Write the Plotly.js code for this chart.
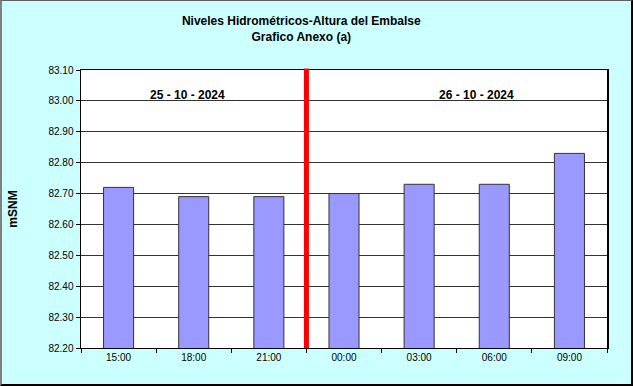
<!DOCTYPE html>
<html>
<head>
<meta charset="utf-8">
<script src="https://cdn.plot.ly/plotly-3.0.1.min.js"></script>
<style>
html,body{margin:0;padding:0;background:#CCFFFF;}
#wrap{position:relative;width:633px;height:386px;}
#chart{position:absolute;left:0;top:0;width:633px;height:386px;}
#frame{position:absolute;left:0;top:0;width:633px;height:386px;border-left:2px solid #808080;border-top:1px solid #606060;border-right:2px solid #000;border-bottom:2px solid #000;box-sizing:border-box;pointer-events:none;}
</style>
</head>
<body>
<div id="wrap"><div id="chart"></div><div id="frame"></div></div>
<script>
const categories = ["15:00","18:00","21:00","00:00","03:00","06:00","09:00"];
const levels = [82.72, 82.69, 82.69, 82.70, 82.73, 82.73, 82.83];
const yTicks = [82.2, 82.3, 82.4, 82.5, 82.6, 82.7, 82.8, 82.9, 83.0, 83.1];
const dayLabels = ["25 - 10 - 2024", "26 - 10 - 2024"];
const dayLabelPos = [0.92, 4.76];
const dayLabelLevel = 83.02;
const dayChange = 2.5;

const trace = {
  type: 'bar',
  x: categories,
  y: levels,
  marker: {color: '#9999FF', line: {color: '#333333', width: 1}},
  width: 0.4,
  hoverinfo: 'none',
  cliponaxis: true
};

const layout = {
  width: 633, height: 386,
  margin: {l: 81, r: 26, t: 70, b: 38},
  paper_bgcolor: '#CCFFFF',
  plot_bgcolor: '#FFFFFF',
  showlegend: false,
  font: {family: 'Liberation Sans, Arial, sans-serif', size: 11, color: '#000'},
  title: {
    text: '<b>Niveles Hidrométricos-Altura del Embalse<br>Grafico Anexo (a)</b>',
    font: {size: 12, color: '#000', family: 'Liberation Sans, Arial, sans-serif'},
    xref: 'container', x: 0.476, xanchor: 'center',
    yref: 'container', y: 0.935, yanchor: 'top'
  },
  xaxis: {
    type: 'category',
    showline: true, mirror: true, linecolor: '#000', linewidth: 1,
    ticks: 'outside', tickson: 'boundaries', ticklen: 4, tickcolor: '#000',
    showgrid: false, zeroline: false,
    tickfont: {size: 10}
  },
  yaxis: {
    range: [82.2, 83.1],
    tickvals: yTicks,
    tickformat: '.2f',
    showline: true, mirror: true, linecolor: '#000', linewidth: 1.5,
    ticks: 'outside', ticklen: 4, tickcolor: '#000',
    showgrid: true, gridcolor: '#333333', gridwidth: 1,
    zeroline: false,
    tickfont: {size: 10},
    title: {text: '<b>mSNM</b>', font: {size: 12}, standoff: 28}
  },
  shapes: [{
    type: 'line', xref: 'x', yref: 'paper',
    x0: dayChange, x1: dayChange, y0: 0, y1: 1.005,
    line: {color: '#FF0000', width: 5}
  }],
  annotations: dayLabels.map((t, i) => ({
    text: '<b>' + t + '</b>', xref: 'x', yref: 'y',
    x: dayLabelPos[i], y: dayLabelLevel, showarrow: false,
    font: {size: 12, color: '#000'}
  }))
};

Plotly.newPlot('chart', [trace], layout, {displayModeBar: false, staticPlot: true});
</script>
</body>
</html>
